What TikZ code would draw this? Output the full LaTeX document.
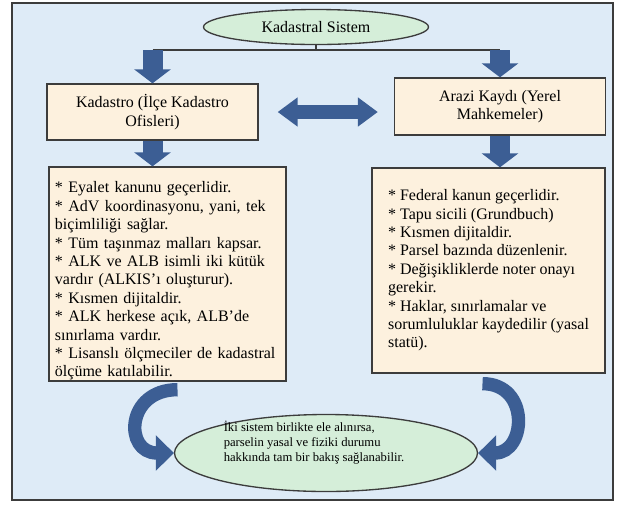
\documentclass[tikz,border=0pt]{standalone}
\usepackage{fontspec}
\setmainfont{Liberation Serif}
\usetikzlibrary{shapes.geometric,arrows.meta}

\definecolor{panelblue}{RGB}{222,235,247}
\definecolor{boxcream}{RGB}{253,241,222}
\definecolor{ovalgreen}{RGB}{213,238,217}
\definecolor{arrowblue}{RGB}{60,94,148}
\definecolor{edgegray}{RGB}{60,60,60}

\newlength\pxl
\setlength\pxl{0.75pt}

\tikzset{
  textfont/.style = {font=\fontsize{12}{13.8}\selectfont},
  headbox/.style = {draw=edgegray, fill=boxcream, line width=1pt, align=center,
    textfont, minimum width=211\pxl},
  listbox/.style = {draw=edgegray, fill=boxcream, line width=1pt, align=left,
    textfont},
  oval/.style = {ellipse, draw=edgegray, fill=ovalgreen, line width=1pt},
  linkline/.style = {draw=edgegray, line width=1.5\pxl},
  blockarrow/.style = {draw=arrowblue, line width=15pt,
    -{Triangle[length=10.5pt,width=27pt]}},
  twowayarrow/.style = {draw=arrowblue, line width=10pt,
    {Triangle[length=15pt,width=21pt]}-{Triangle[length=15pt,width=21pt]}},
  bendarrow/.style = {draw=arrowblue, line width=10pt,
    -{Triangle[length=13.5pt,width=26pt]}}
}

\begin{document}
\begin{tikzpicture}[x=0.75pt, y=-0.75pt]
\useasboundingbox (0,0) rectangle (622,512);

% panel
\draw[edgegray, line width=1.5\pxl, fill=panelblue] (12,3) rectangle (613,500);

% top
\node[oval, textfont, minimum width=225\pxl, minimum height=35\pxl] (kadsis)
  at (316,27) {Kadastral Sistem};

% the two offices
\node[headbox, minimum height=56\pxl] (kad) at (152.5,112)
  {Kadastro (İlçe Kadastro\\Ofisleri)};
\node[headbox, minimum height=57\pxl] (arz) at (500,106.5)
  {Arazi Kaydı (Yerel\\Mahkemeler)};

% details
\node[listbox, text width=225\pxl, inner xsep=6\pxl, inner ysep=0pt,
  minimum height=214\pxl] (kadlist) at (167.5,274) {%
  \rule{0pt}{19pt}{*} Eyalet kanunu geçerlidir.\\
  {*} AdV koordinasyonu, yani, tek\\
  biçimliliği sağlar.\\
  {*} Tüm taşınmaz malları kapsar.\\
  {*} ALK ve ALB isimli iki kütük\\
  vardır (ALKIS’ı oluşturur).\\
  {*} Kısmen dijitaldir.\\
  {*} ALK herkese açık, ALB’de\\
  sınırlama vardır.\\
  {*} Lisanslı ölçmeciler de kadastral\\
  ölçüme katılabilir.};
\node[listbox, minimum width=233\pxl, minimum height=205\pxl] (arzlist)
  at (488.5,270.5) {%
  {*} Federal kanun geçerlidir.\\
  {*} Tapu sicili (Grundbuch)\\
  {*} Kısmen dijitaldir.\\
  {*} Parsel bazında düzenlenir.\\
  {*} Değişikliklerde noter onayı\\
  gerekir.\\
  {*} Haklar, sınırlamalar ve\\
  sorumluluklar kaydedilir (yasal\\
  statü).};

% result
\node[oval, minimum width=303\pxl, minimum height=77\pxl] (sonuc) at (326,453) {};
\node[align=left, font=\fontsize{9.5}{11.2}\selectfont] (sonuctext) at (314,443)
  {İki sistem birlikte ele alınırsa,\\parselin yasal ve fiziki durumu\\
  hakkında tam bir bakış sağlanabilir.};

% arrows
\coordinate (split) at (316,50);
\draw[linkline] (kadsis.south) -- (split);
\draw[linkline] (split -| kad) -- (split -| arz);
\draw[blockarrow] (split -| kad) -- (kad.north);
\draw[blockarrow] (split -| arz) -- (arz.north);
\draw[blockarrow] (kad.south) -- (kad.south |- kadlist.north);
\draw[blockarrow] (arz.south) -- (arz.south |- arzlist.north);
\draw[twowayarrow, shorten <=19\pxl, shorten >=16\pxl]
  (kad.east) -- (kad.east -| arz.west);
\draw[bendarrow] ([shift={(10,8)}]kadlist.south)
  .. controls +(-52,0) and +(-50,0) .. (sonuc.west);
\draw[bendarrow] ([shift={(-6,10)}]arzlist.south)
  .. controls +(48,0) and +(48,0) .. (sonuc.east);

\end{tikzpicture}
\end{document}
